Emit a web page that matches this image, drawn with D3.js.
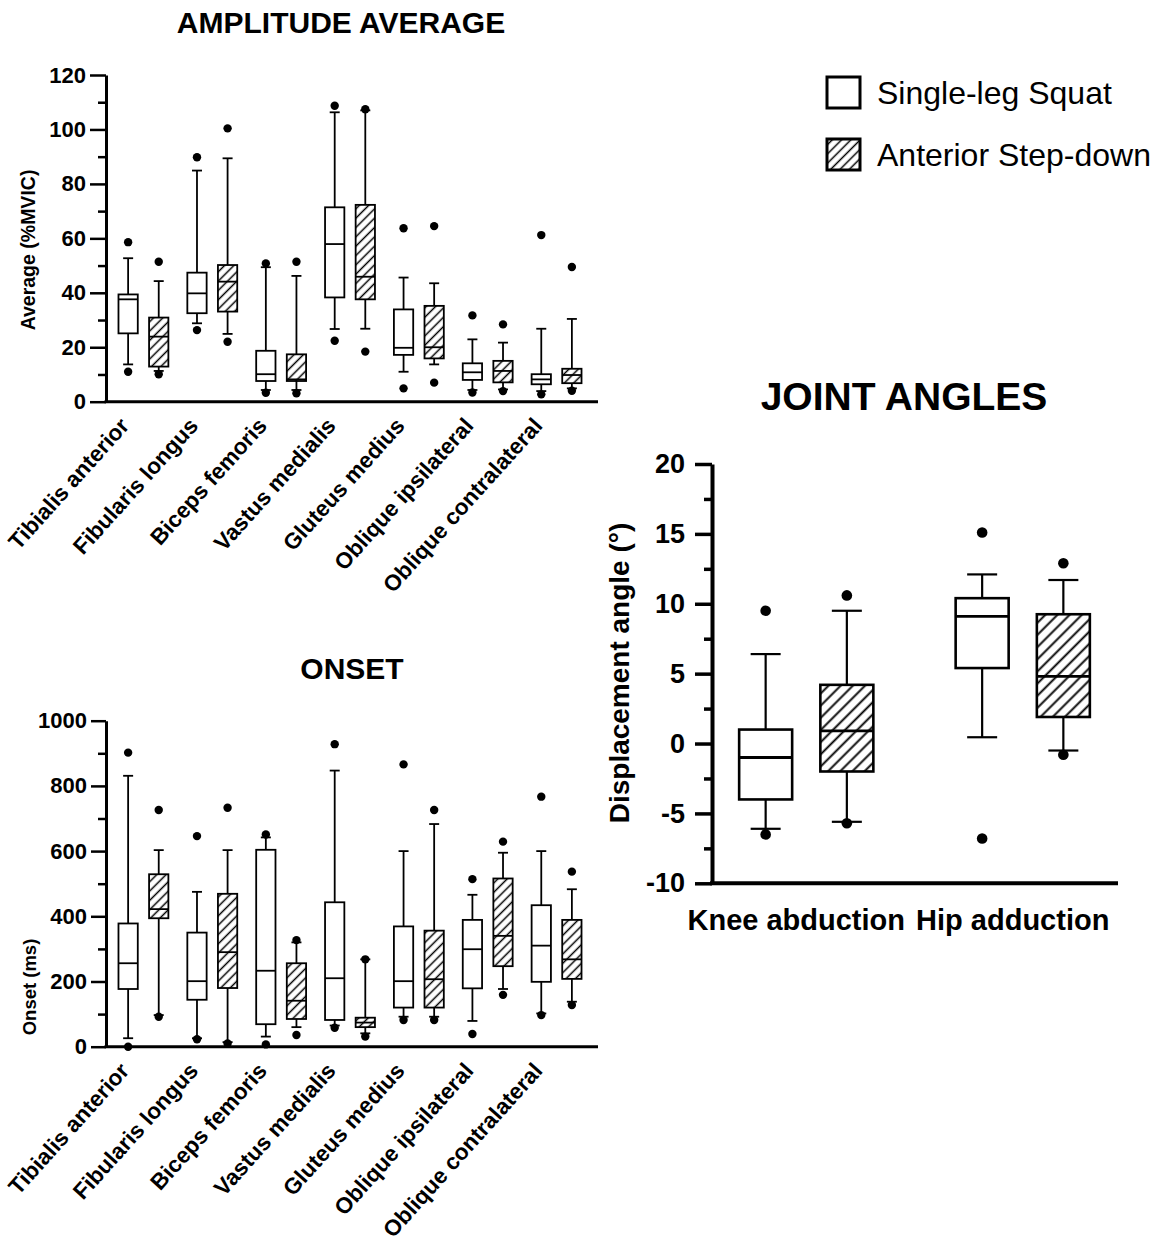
<!DOCTYPE html>
<html>
<head>
<meta charset="utf-8">
<script src="https://cdn.jsdelivr.net/npm/d3@7"></script>
<style>
  body { margin: 0; background: #fff; }
  svg { display: block; }
  text { font-family: "Liberation Sans", Arial, Helvetica, sans-serif; fill: #000; }
</style>
</head>
<body>
<svg id="fig" width="1159" height="1247"></svg>
<script>
// ---- data --------------------------------------------------------------
const muscles = ["Tibialis anterior", "Fibularis longus", "Biceps femoris", "Vastus medialis",
                 "Gluteus medius", "Oblique ipsilateral", "Oblique contralateral"];
const tasks = ["Single-leg Squat", "Anterior Step-down"];
const joints = ["Knee abduction", "Hip adduction"];

// each row: [low outlier, lower whisker, Q1, median, Q3, upper whisker, high outlier]
const amplitudeSquat = [
  [11.0, 13.7, 25.1, 37.6, 39.4, 52.7, 58.6],
  [26.3, 28.8, 32.5, 39.8, 47.4, 84.9, 89.8],
  [3.3, 4.3, 7.6, 10.1, 18.7, 49.4, 50.8],
  [22.4, 26.7, 38.3, 57.9, 71.4, 106.3, 108.7],
  [4.9, 11.0, 17.2, 19.8, 33.9, 45.6, 63.7],
  [3.4, 4.3, 8.0, 10.8, 14.1, 22.9, 31.7],
  [2.7, 3.9, 6.4, 8.2, 10.1, 26.8, 61.2]
];
const amplitudeStepDown = [
  [10.1, 11.3, 12.9, 23.9, 30.9, 44.3, 51.4],
  [22.0, 24.9, 33.1, 44.1, 50.2, 89.4, 100.4],
  [3.1, 4.3, 7.6, 8.2, 17.4, 46.2, 51.4],
  [18.4, 26.8, 37.6, 45.9, 72.3, 107.0, 107.4],
  [7.0, 13.7, 15.9, 20.0, 35.2, 43.5, 64.5],
  [3.9, 4.5, 7.1, 11.3, 15.0, 21.7, 28.4],
  [4.0, 4.9, 6.8, 9.8, 12.1, 30.4, 49.5]
];
const onsetSquat = [
  [0, 26, 177, 256, 378, 831, 902],
  [23, 26, 144, 201, 350, 475, 646],
  [7, 31, 69, 233, 604, 642, 651],
  [58, 65, 82, 210, 443, 847, 928],
  [82, 92, 120, 201, 369, 600, 866],
  [39, 79, 179, 299, 389, 466, 514],
  [97, 102, 199, 310, 434, 600, 767]
];
const onsetStepDown = [
  [92, 97, 394, 422, 529, 603, 726],
  [10, 14, 180, 290, 469, 603, 733],
  [36, 60, 85, 141, 256, 320, 327],
  [31, 41, 60, 74, 89, 268, 268],
  [82, 92, 120, 207, 356, 683, 726],
  [159, 177, 247, 340, 516, 595, 629],
  [128, 138, 208, 268, 389, 483, 537]
];
const angleSquat = [
  [-6.5, -6.1, -4.0, -1.0, 1.0, 6.4, 9.5],
  [-6.8, 0.45, 5.4, 9.1, 10.4, 12.1, 15.1]
];
const angleStepDown = [
  [-5.7, -5.6, -2.0, 0.9, 4.2, 9.5, 10.6],
  [-0.8, -0.5, 1.9, 4.8, 9.25, 11.7, 12.9]
];

const amplitudeTicks = [0, 20, 40, 60, 80, 100, 120];
const amplitudeMinor = [10, 30, 50, 70, 90, 110];
const onsetTicks = [0, 200, 400, 600, 800, 1000];
const onsetMinor = [100, 300, 500, 700, 900];
const angleTicks = [-10, -5, 0, 5, 10, 15, 20];
const angleMinor = [-7.5, -2.5, 2.5, 7.5, 12.5, 17.5];

// ---- drawing -----------------------------------------------------------
const svg = d3.select("#fig");
const defs = svg.append("defs");

function hatch(id, size, sw) {
  const p = defs.append("pattern")
    .attr("id", id)
    .attr("patternUnits", "userSpaceOnUse")
    .attr("width", size).attr("height", size)
    .attr("patternTransform", "rotate(45)");
  p.append("rect").attr("width", size).attr("height", size).attr("fill", "#fff");
  p.append("line").attr("x1", size / 2).attr("y1", 0).attr("x2", size / 2).attr("y2", size)
    .attr("stroke", "#000").attr("stroke-width", sw);
}
hatch("hatchSmall", 6.6, 1.5);
hatch("hatchLarge", 8.6, 1.9);

// plain ASCII hyphen for negative tick values
const plainNumber = d => String(d);

function boxPanel(o) {
  const g = svg.append("g");
  const y = d3.scaleLinear().domain(o.domain).range([o.bottom, o.top]);
  const x = d3.scaleBand().domain(o.cats).range(o.band);
  const sub = d3.scalePoint().domain(tasks).range([-o.offset, o.offset]);
  const fills = { [tasks[0]]: "#fff", [tasks[1]]: `url(#${o.hatch})` };

  // boxes
  tasks.forEach((t, si) => {
    const rows = o.sets[si];
    rows.forEach((r, i) => {
      const cx = x(o.cats[i]) + x.bandwidth() / 2 + sub(t);
      const [lo, wLo, q1, med, q3, wHi, hi] = r;
      const b = g.append("g");
      b.append("line").attr("x1", cx).attr("x2", cx).attr("y1", y(wLo)).attr("y2", y(wHi))
        .attr("stroke", "#000").attr("stroke-width", o.whiskerW);
      [wLo, wHi].forEach(v => b.append("line")
        .attr("x1", cx - o.capW / 2).attr("x2", cx + o.capW / 2)
        .attr("y1", y(v)).attr("y2", y(v))
        .attr("stroke", "#000").attr("stroke-width", o.whiskerW));
      b.append("rect")
        .attr("x", cx - o.boxW / 2).attr("width", o.boxW)
        .attr("y", y(q3)).attr("height", y(q1) - y(q3))
        .attr("fill", fills[t]).attr("stroke", "#000").attr("stroke-width", o.boxStroke);
      b.append("line").attr("x1", cx - o.boxW / 2).attr("x2", cx + o.boxW / 2)
        .attr("y1", y(med)).attr("y2", y(med))
        .attr("stroke", "#000").attr("stroke-width", o.medianW);
      [lo, hi].forEach(v => b.append("circle").attr("cx", cx).attr("cy", y(v)).attr("r", o.dotR).attr("fill", "#000"));
    });
  });

  // y axis
  const ya = g.append("g").attr("transform", `translate(${o.left},0)`)
    .call(d3.axisLeft(y).tickValues(o.ticks).tickSize(o.tickLen).tickSizeOuter(0)
      .tickPadding(o.tickPad).tickFormat(plainNumber));
  ya.select(".domain").attr("stroke-width", o.axisW).attr("stroke", "#000");
  ya.selectAll(".tick line").attr("stroke-width", o.axisW - 0.5).attr("stroke", "#000");
  ya.selectAll(".tick text").attr("font-size", o.tickFont).attr("font-weight", "bold")
    .attr("font-family", "Liberation Sans, Arial, sans-serif").attr("fill", "#000");
  const ym = g.append("g").attr("transform", `translate(${o.left},0)`)
    .call(d3.axisLeft(y).tickValues(o.minor).tickSize(o.minorLen).tickSizeOuter(0).tickFormat(""));
  ym.select(".domain").remove();
  ym.selectAll(".tick line").attr("stroke-width", o.axisW - 0.5).attr("stroke", "#000");

  // x axis line
  g.append("line").attr("x1", o.left - o.axisW / 2).attr("x2", o.right)
    .attr("y1", o.bottom).attr("y2", o.bottom)
    .attr("stroke", "#000").attr("stroke-width", o.axisW);

  // category labels
  o.cats.forEach(c => {
    const cx = x(c) + x.bandwidth() / 2;
    if (o.rotate) {
      g.append("text").attr("text-anchor", "end")
        .attr("transform", `translate(${cx - 13},${o.bottom + 25}) rotate(-48)`)
        .attr("font-size", o.catFont).attr("font-weight", "bold").text(c);
    } else {
      g.append("text").attr("text-anchor", "middle")
        .attr("x", cx - 10).attr("y", o.bottom + 47)
        .attr("font-size", o.catFont).attr("font-weight", "bold").text(c);
    }
  });

  // titles
  g.append("text").attr("text-anchor", "middle").attr("x", o.titleX).attr("y", o.titleY)
    .attr("font-size", o.titleFont).attr("font-weight", "bold").text(o.title);
  g.append("text").attr("text-anchor", "middle")
    .attr("transform", `translate(${o.ylabX},${o.ylabY}) rotate(-90)`)
    .attr("font-size", o.ylabFont).attr("font-weight", o.ylabWeight).text(o.ylab);
}

const smallStyle = {
  left: 106, right: 598, band: [109, 591], offset: 15.3, boxW: 19.3, capW: 10,
  dotR: 4.2, axisW: 3, boxStroke: 1.8, whiskerW: 1.8, medianW: 1.8,
  tickLen: 16, minorLen: 8, tickPad: 4, tickFont: 22, catFont: 22.5, rotate: true,
  hatch: "hatchSmall", titleFont: 30, ylabWeight: "bold", cats: muscles
};

boxPanel(Object.assign({}, smallStyle, {
  top: 75, bottom: 401.7, domain: [0, 120], ticks: amplitudeTicks, minor: amplitudeMinor,
  sets: [amplitudeSquat, amplitudeStepDown],
  title: "AMPLITUDE AVERAGE", titleX: 341, titleY: 33,
  ylab: "Average (%MVIC)", ylabX: 35, ylabY: 250, ylabFont: 19.5
}));

boxPanel(Object.assign({}, smallStyle, {
  top: 720.7, bottom: 1046.7, domain: [0, 1000], ticks: onsetTicks, minor: onsetMinor,
  tickLen: 15, sets: [onsetSquat, onsetStepDown],
  title: "ONSET", titleX: 352, titleY: 679,
  ylab: "Onset (ms)", ylabX: 36, ylabY: 987, ylabFont: 18.5
}));

boxPanel({
  left: 712, right: 1118, band: [698, 1131], offset: 40.6, boxW: 53, capW: 30,
  dotR: 5.3, axisW: 4, boxStroke: 2.6, whiskerW: 2.2, medianW: 2.8,
  tickLen: 17, minorLen: 8, tickPad: 10, tickFont: 27, catFont: 29, rotate: false,
  hatch: "hatchLarge", titleFont: 39, ylabWeight: "bold", cats: joints,
  top: 464, bottom: 883.3, domain: [-10, 20], ticks: angleTicks, minor: angleMinor,
  sets: [angleSquat, angleStepDown],
  title: "JOINT ANGLES", titleX: 904, titleY: 410,
  ylab: "Displacement angle (°)", ylabX: 629, ylabY: 673, ylabFont: 28
});

// legend
const legend = svg.append("g");
tasks.forEach((t, i) => {
  const row = legend.append("g").attr("transform", `translate(0,${i * 62})`);
  row.append("rect").attr("x", 827).attr("y", 77).attr("width", 33).attr("height", 31)
    .attr("fill", i === 0 ? "#fff" : "url(#hatchSmall)")
    .attr("stroke", "#000").attr("stroke-width", 3);
  row.append("text").attr("x", 877).attr("y", 104).attr("font-size", 32).text(t);
});
</script>
</body>
</html>
